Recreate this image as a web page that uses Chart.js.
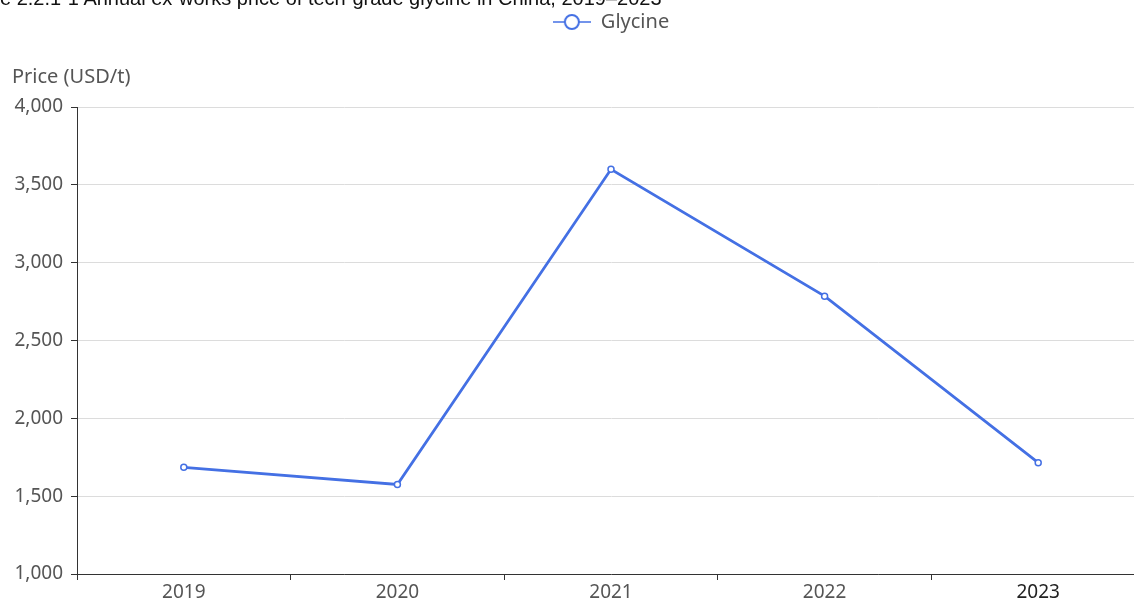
<!DOCTYPE html>
<html>
<head>
<meta charset="utf-8">
<script src="https://cdn.jsdelivr.net/npm/chart.js@4.4.0/dist/chart.umd.min.js"></script>
<style>
  html, body { margin: 0; padding: 0; background: #fff; overflow: hidden; width: 1134px; height: 603px; }
  #wrap { position: relative; width: 1134px; height: 603px; overflow: hidden; }
  #title { position: absolute; left: 0; top: -12px; font: 20px "Liberation Sans", Arial, sans-serif; color: #111; line-height: 20px; white-space: nowrap; }
  #title span { position: absolute; right: 100%; }
  canvas { position: absolute; left: 0; top: 0; }
</style>
</head>
<body>
<div id="wrap">
  <canvas id="chart" width="1220" height="603"></canvas>
  <div id="title"><span>Figur</span>e 2.2.1-1 Annual ex-works price of tech-grade glycine in China, 2019–2023</div>
</div>
<script>
// Data
const years = ['2019', '2020', '2021', '2022', '2023'];
const glycinePrice = [1685, 1575, 3600, 2785, 1715];
const yTicks = [1000, 1500, 2000, 2500, 3000, 3500, 4000];

const FONT = '"Noto Sans", "Open Sans", sans-serif';
const BLUE = '#4470e4';

// legend icon: short line through a hollow circle
const icon = document.createElement('canvas');
icon.width = 38; icon.height = 18;
(function() {
  const c = icon.getContext('2d');
  c.strokeStyle = BLUE;
  c.lineWidth = 1.6;
  c.beginPath(); c.moveTo(0, 9); c.lineTo(38, 9); c.stroke();
  c.fillStyle = '#fff';
  c.lineWidth = 2;
  c.beginPath(); c.arc(19, 9, 7, 0, Math.PI * 2); c.fill(); c.stroke();
})();

new Chart(document.getElementById('chart').getContext('2d'), {
  type: 'line',
  data: {
    labels: years,
    datasets: [{
      label: 'Glycine',
      data: glycinePrice,
      borderColor: BLUE,
      borderWidth: 2.8,
      backgroundColor: '#fff',
      pointRadius: 3,
      pointBorderWidth: 1.5,
      pointBackgroundColor: '#fff',
      pointBorderColor: BLUE,
      tension: 0
    }]
  },
  options: {
    responsive: false,
    animation: false,
    layout: { padding: { top: 4, right: 75, left: 12, bottom: 0 } },
    plugins: {
      tooltip: { enabled: false },
      legend: {
        position: 'top',
        weight: 3000,
        fullSize: false,
        labels: {
          usePointStyle: true,
          pointStyle: icon,
          pointStyleWidth: 38,
          font: { size: 20, family: FONT },
          color: '#555',
          padding: 8,
          generateLabels(chart) {
            return chart.data.datasets.map((ds, i) => ({
              text: ds.label, pointStyle: icon, datasetIndex: i,
              fontColor: '#555', lineWidth: 0, strokeStyle: 'transparent', fillStyle: 'transparent'
            }));
          }
        }
      },
      // y-axis name sits above the axis
      title: {
        display: true,
        text: 'Price (USD/t)',
        align: 'start',
        color: '#555',
        font: { size: 20, family: FONT, weight: 'normal' },
        padding: { top: 23, bottom: 18 }
      }
    },
    scales: {
      x: {
        offset: true,
        grid: { display: true, drawOnChartArea: false, offset: true, tickLength: 6, tickColor: '#333' },
        border: { color: '#333', width: 1 },
        ticks: {
          font: { size: 19, family: FONT },
          color: ctx => ctx.index === years.length - 1 ? '#222' : '#555',
          padding: 1,
          maxRotation: 0
        },
        afterFit(scale) { scale.height = 29; }
      },
      y: {
        min: 1000,
        max: 4000,
        afterBuildTicks(scale) { scale.ticks = yTicks.map(v => ({ value: v })); },
        grid: { color: '#dcdcdc', tickLength: 6, tickColor: '#333' },
        border: { color: '#333', width: 1 },
        ticks: {
          font: { size: 19, family: FONT },
          color: '#555',
          padding: 8,
          callback: v => v.toLocaleString('en-US')
        },
        afterFit(scale) { scale.width = 65; }
      }
    }
  }
});
</script>
</body>
</html>
